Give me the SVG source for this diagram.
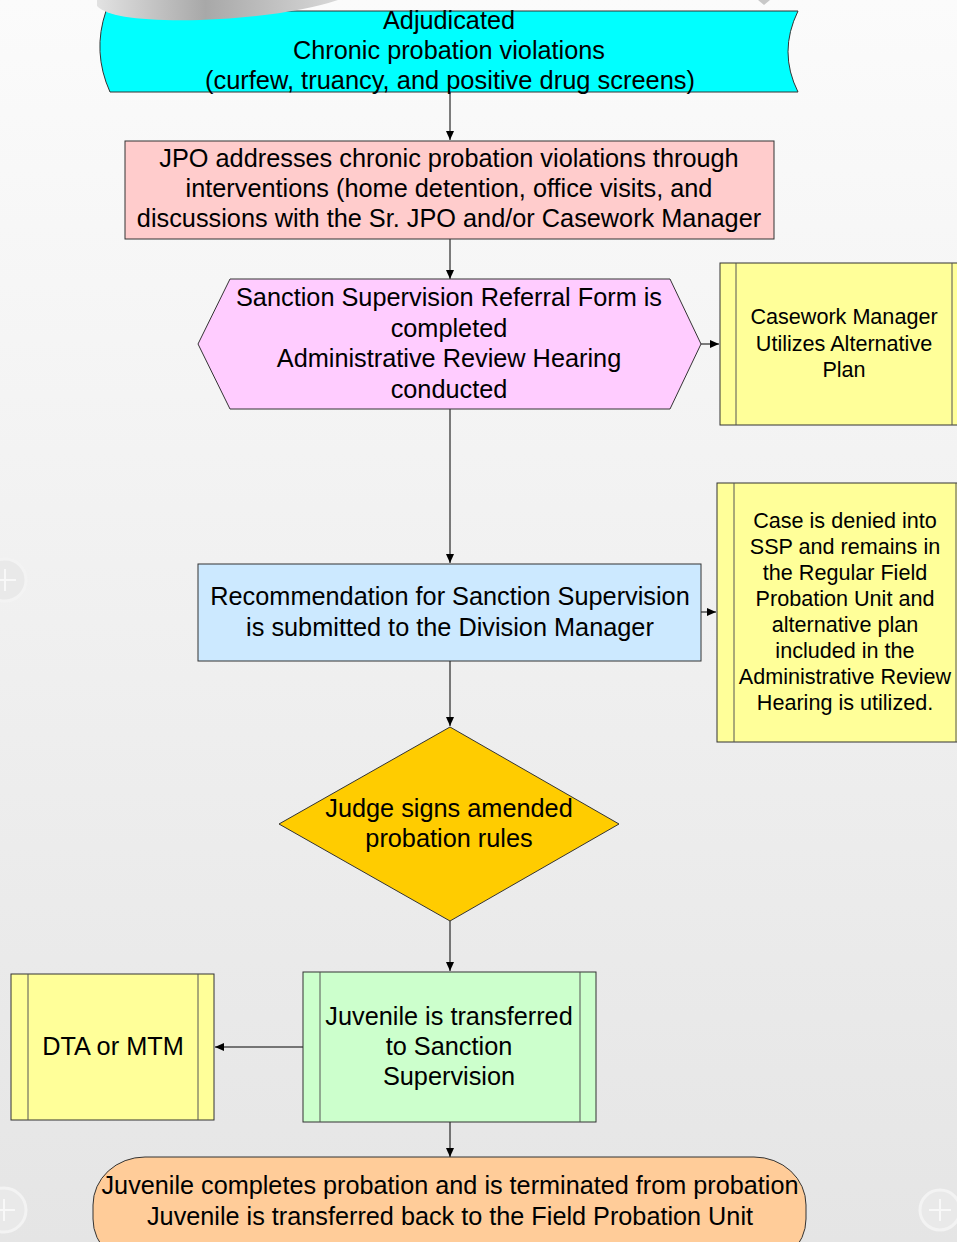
<svg xmlns="http://www.w3.org/2000/svg" width="957" height="1242" viewBox="0 0 957 1242">
<defs>
<linearGradient id="bg" x1="0" y1="0" x2="0" y2="1">
<stop offset="0" stop-color="#fbfbfb"/>
<stop offset="1" stop-color="#e5e5e5"/>
</linearGradient>
<linearGradient id="sw" x1="0" y1="0" x2="1" y2="0">
<stop offset="0" stop-color="#e2e2e2"/>
<stop offset="0.45" stop-color="#a8a8a8"/>
<stop offset="1" stop-color="#d8d8d8"/>
</linearGradient>
<marker id="ah" markerWidth="10" markerHeight="8" refX="9" refY="4" orient="auto" markerUnits="userSpaceOnUse">
<path d="M0,0 L9,4 L0,8 Z" fill="#000"/>
</marker>
<style>
.t{font-family:"Liberation Sans",Arial,sans-serif;font-size:25.3px;fill:#000;text-anchor:middle}
.s{font-family:"Liberation Sans",Arial,sans-serif;font-size:21.6px;fill:#000;text-anchor:middle}
.b{stroke:#333;stroke-width:1}
.in{stroke:#555;stroke-width:1;fill:none}
.c{stroke:#000;stroke-width:1;fill:none;marker-end:url(#ah)}
.deco{fill:#e9e9e9;stroke:#f3f3f3;stroke-width:3}
.plus{stroke:#f8f8f8;stroke-width:2}
</style>
</defs>
<rect x="0" y="0" width="957" height="1242" fill="url(#bg)"/>
<g id="decor">
<circle class="deco" cx="5" cy="580" r="21"/>
<path class="plus" d="M-6,580 H16 M5,569 V591"/>
<circle class="deco" cx="4" cy="1210" r="22"/>
<path class="plus" d="M-7,1210 H15 M4,1199 V1221"/>
<circle class="deco" cx="940" cy="1210" r="20"/>
<path class="plus" d="M929,1210 H951 M940,1199 V1221"/>
</g>
<g id="connectors">
<line class="c" x1="450" y1="92" x2="450" y2="140"/>
<line class="c" x1="450" y1="239" x2="450" y2="279"/>
<line class="c" x1="701" y1="344" x2="719" y2="344"/>
<line class="c" x1="450" y1="409" x2="450" y2="563"/>
<line class="c" x1="701" y1="612" x2="716" y2="612"/>
<line class="c" x1="450" y1="661" x2="450" y2="726"/>
<line class="c" x1="450" y1="921" x2="450" y2="971"/>
<line class="c" x1="303" y1="1047" x2="215" y2="1047"/>
<line class="c" x1="450" y1="1122" x2="450" y2="1157"/>
</g>
<g id="n1">
<path class="b" fill="#00ffff" d="M106,11 L798,11 Q778,52 798,92 L110,92 Q92,52 106,11 Z"/>
<text class="t" x="449" y="29" textLength="132" lengthAdjust="spacingAndGlyphs">Adjudicated</text>
<text class="t" x="449" y="59" textLength="312" lengthAdjust="spacingAndGlyphs">Chronic probation violations</text>
<text class="t" x="450" y="89" textLength="490" lengthAdjust="spacingAndGlyphs">(curfew, truancy, and positive drug screens)</text>
</g>
<g id="swoosh">
<path fill="url(#sw)" d="M97,0 L97,6 Q112,22 200,20 Q290,16 338,0 Z"/>
<path fill="#c8c8c8" d="M758,0 L770,0 L764,5 Z"/>
</g>
<g id="n2">
<rect class="b" x="125" y="141" width="649" height="98" fill="#ffcccc"/>
<text class="t" x="449" y="167">JPO addresses chronic probation violations through</text>
<text class="t" x="449" y="197">interventions (home detention, office visits, and</text>
<text class="t" x="449" y="227">discussions with the Sr. JPO and/or Casework Manager</text>
</g>
<g id="n3">
<path class="b" fill="#ffccff" d="M198,344 L230,279 L670,279 L701,344 L670,409 L230,409 Z"/>
<text class="t" x="449" y="306">Sanction Supervision Referral Form is</text>
<text class="t" x="449" y="337">completed</text>
<text class="t" x="449" y="367">Administrative Review Hearing</text>
<text class="t" x="449" y="398">conducted</text>
</g>
<g id="n4">
<rect class="b" x="720" y="263" width="260" height="162" fill="#ffff99"/>
<line class="in" x1="736" y1="263" x2="736" y2="425"/>
<line class="in" x1="952" y1="263" x2="952" y2="425"/>
<text class="s" x="844" y="324">Casework Manager</text>
<text class="s" x="844" y="351">Utilizes Alternative</text>
<text class="s" x="844" y="377">Plan</text>
</g>
<g id="n5">
<rect class="b" x="198" y="564" width="503" height="97" fill="#cce9ff"/>
<text class="t" x="450" y="605">Recommendation for Sanction Supervision</text>
<text class="t" x="450" y="636">is submitted to the Division Manager</text>
</g>
<g id="n6">
<rect class="b" x="717" y="483" width="260" height="259" fill="#ffff99"/>
<line class="in" x1="734" y1="483" x2="734" y2="742"/>
<line class="in" x1="956" y1="483" x2="956" y2="742"/>
<text class="s" x="845" y="528">Case is denied into</text>
<text class="s" x="845" y="554">SSP and remains in</text>
<text class="s" x="845" y="580">the Regular Field</text>
<text class="s" x="845" y="606">Probation Unit and</text>
<text class="s" x="845" y="632">alternative plan</text>
<text class="s" x="845" y="658">included in the</text>
<text class="s" x="845" y="684">Administrative Review</text>
<text class="s" x="845" y="710">Hearing is utilized.</text>
</g>
<g id="n7">
<path class="b" fill="#ffcc00" d="M450,727 L619,824 L450,921 L279,824 Z"/>
<text class="t" x="449" y="817">Judge signs amended</text>
<text class="t" x="449" y="847">probation rules</text>
</g>
<g id="n8">
<rect class="b" x="303" y="972" width="293" height="150" fill="#ccffcc"/>
<line class="in" x1="320" y1="972" x2="320" y2="1122"/>
<line class="in" x1="580" y1="972" x2="580" y2="1122"/>
<text class="t" x="449" y="1025">Juvenile is transferred</text>
<text class="t" x="449" y="1055">to Sanction</text>
<text class="t" x="449" y="1085">Supervision</text>
</g>
<g id="n9">
<rect class="b" x="11" y="974" width="203" height="146" fill="#ffff99"/>
<line class="in" x1="28" y1="974" x2="28" y2="1120"/>
<line class="in" x1="198" y1="974" x2="198" y2="1120"/>
<text class="t" x="113" y="1055">DTA or MTM</text>
</g>
<g id="n10">
<rect class="b" x="93" y="1157" width="713" height="110" rx="52" ry="48" fill="#ffcc99"/>
<text class="t" x="450" y="1194" textLength="697" lengthAdjust="spacingAndGlyphs">Juvenile completes probation and is terminated from probation</text>
<text class="t" x="450" y="1225" textLength="606" lengthAdjust="spacingAndGlyphs">Juvenile is transferred back to the Field Probation Unit</text>
</g>
</svg>
